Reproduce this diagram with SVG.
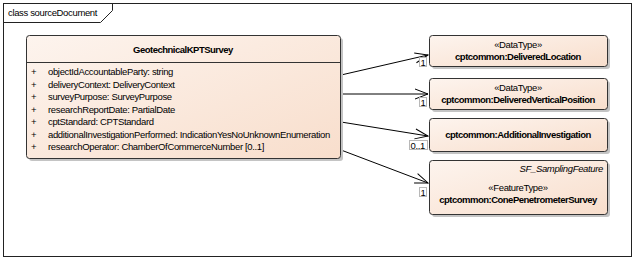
<svg xmlns="http://www.w3.org/2000/svg" width="636" height="261" viewBox="0 0 636 261">
<defs>
<linearGradient id="peach" x1="0" y1="0" x2="1" y2="1">
<stop offset="0" stop-color="#FDF4EE"/>
<stop offset="1" stop-color="#F8DECC"/>
</linearGradient>
<marker id="open" viewBox="-14 -7 16 14" refX="0" refY="0" markerWidth="16" markerHeight="14" markerUnits="userSpaceOnUse" orient="auto">
<path d="M-13,-5 L0,0 L-13,5" fill="none" stroke="#000" stroke-width="1"/>
</marker>
</defs>
<style>
text{font-family:"Liberation Sans",Arial,sans-serif;font-size:9.5px;letter-spacing:-0.35px;fill:#000}
.b{font-weight:bold;letter-spacing:-0.5px}
.c{text-anchor:middle}
.box{fill:url(#peach);stroke:#333;stroke-width:1}
.sh{fill:#c4c4c4}
.conn{stroke:#000;stroke-width:1;fill:none;marker-end:url(#open)}
.mult{fill:#fff;stroke:#b8b8b8;stroke-width:1}
</style>
<rect width="636" height="261" fill="#fff"/>
<g id="frame">
<rect x="3.5" y="3.5" width="628" height="253" fill="none" stroke="#222"/>
<path d="M3.5,22.5 H100.5 L112.5,10.5 V3.5" fill="none" stroke="#222"/>
<text x="8" y="15.5">class sourceDocument</text>
</g>
<g id="connectors">
<line class="conn" x1="341" y1="75" x2="428" y2="55"/>
<rect class="mult" x="419.5" y="57.5" width="7" height="9"/>
<text x="420.5" y="65.5">1</text>
<line class="conn" x1="341" y1="94" x2="428" y2="94"/>
<rect class="mult" x="419.5" y="97.5" width="7" height="9"/>
<text x="420.5" y="105.5">1</text>
<line class="conn" x1="341" y1="122" x2="428" y2="136"/>
<rect class="mult" x="409.5" y="140.5" width="18" height="9"/>
<text x="410.5" y="148.5">0..1</text>
<line class="conn" x1="341" y1="150" x2="428" y2="183"/>
<rect class="mult" x="419.5" y="187.5" width="7" height="9"/>
<text x="420.5" y="195.5">1</text>
</g>
<g id="GeotechnicalKPTSurvey">
<rect class="sh" x="29" y="38" width="314" height="123" rx="3"/>
<rect class="box" x="26.5" y="35.5" width="314" height="123" rx="3"/>
<line x1="26.5" y1="62.5" x2="340.5" y2="62.5" stroke="#333"/>
<text class="b c" x="183" y="53">GeotechnicalKPTSurvey</text>
<text x="31" y="75">+</text><text x="48" y="75">objectIdAccountableParty: string</text>
<text x="31" y="87.5">+</text><text x="48" y="87.5">deliveryContext: DeliveryContext</text>
<text x="31" y="100">+</text><text x="48" y="100">surveyPurpose: SurveyPurpose</text>
<text x="31" y="112.5">+</text><text x="48" y="112.5">researchReportDate: PartialDate</text>
<text x="31" y="125">+</text><text x="48" y="125">cptStandard: CPTStandard</text>
<text x="31" y="137.5">+</text><text x="48" y="137.5">additionalInvestigationPerformed: IndicationYesNoUnknownEnumeration</text>
<text x="31" y="150">+</text><text x="48" y="150">researchOperator: ChamberOfCommerceNumber [0..1]</text>
</g>
<g id="DeliveredLocation">
<rect class="sh" x="432" y="38" width="178" height="31" rx="3"/>
<rect class="box" x="429.5" y="35.5" width="178" height="31" rx="3"/>
<text class="c" x="518" y="48">«DataType»</text>
<text class="b c" x="518" y="60">cptcommon:DeliveredLocation</text>
</g>
<g id="DeliveredVerticalPosition">
<rect class="sh" x="432" y="81" width="178" height="31" rx="3"/>
<rect class="box" x="429.5" y="78.5" width="178" height="31" rx="3"/>
<text class="c" x="518" y="91">«DataType»</text>
<text class="b c" x="518" y="103">cptcommon:DeliveredVerticalPosition</text>
</g>
<g id="AdditionalInvestigation">
<rect class="sh" x="432" y="121" width="178" height="33" rx="3"/>
<rect class="box" x="429.5" y="118.5" width="178" height="33" rx="3"/>
<text class="b c" x="518" y="138">cptcommon:AdditionalInvestigation</text>
</g>
<g id="ConePenetrometerSurvey">
<rect class="sh" x="432" y="163" width="178" height="54" rx="3"/>
<rect class="box" x="429.5" y="160.5" width="178" height="54" rx="3"/>
<text x="603" y="172" text-anchor="end" font-style="italic">SF_SamplingFeature</text>
<text class="c" x="518" y="191">«FeatureType»</text>
<text class="b c" x="518" y="203">cptcommon:ConePenetrometerSurvey</text>
</g>
</svg>
